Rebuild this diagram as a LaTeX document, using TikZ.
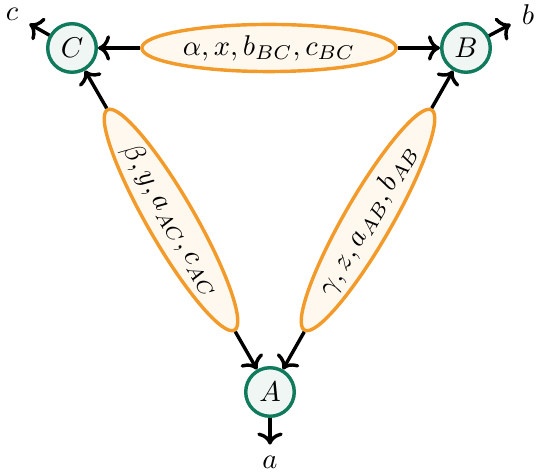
\documentclass[tikz,border=0pt]{standalone}
\usepackage{amsmath}
\usepackage{xcolor}
\usepackage{tikz}
\usetikzlibrary{arrows.meta, shapes.geometric}
\definecolor{varline}{HTML}{0F7A5C}
\definecolor{varfill}{HTML}{F0F6F4}
\definecolor{facline}{HTML}{F29B2A}
\definecolor{facfill}{HTML}{FFF8EF}

\begin{document}
\begin{tikzpicture}[
      x=0.35pt, y=-0.35pt, line width=1.2pt,
      var/.style={circle, draw=varline, fill=varfill, line width=1.2pt, minimum size=17pt, inner sep=0pt},
      fac/.style={ellipse, draw=facline, fill=facfill, line width=1.2pt, minimum width=89pt, minimum height=16.5pt, inner sep=1pt},
      lbl/.style={inner sep=0.333em}]
    \useasboundingbox (0,0) rectangle (540,474);
    \node[var] (C) at (72,48) {$C$};
    \node[var] (B) at (466,48) {$B$};
    \node[var] (A) at (270,392) {$A$};
    \node[fac] (fBC) at (269,48) {$\alpha, x, b_{BC}, c_{BC}$};
    \node[fac, rotate=-60] (fAC) at (171,220) {$\beta, y, a_{AC}, c_{AC}$};
    \node[fac, rotate=60] (fAB) at (368,220) {$\gamma, z, a_{AB}, b_{AB}$};
    \node[lbl] (c) at (12,14) {$c$};
    \node[lbl] (b) at (528,15) {$b$};
    \node[lbl] (a) at (270,462) {$a$};
    \draw[->] (fBC) -- (C);
    \draw[->] (fBC) -- (B);
    \draw[->] (fAC) -- (C);
    \draw[->] (fAC) -- (A);
    \draw[->] (fAB) -- (B);
    \draw[->] (fAB) -- (A);
    \draw[->] (C) -- (c);
    \draw[->] (B) -- (b);
    \draw[->] (A) -- (a);
  \end{tikzpicture}
\end{document}
